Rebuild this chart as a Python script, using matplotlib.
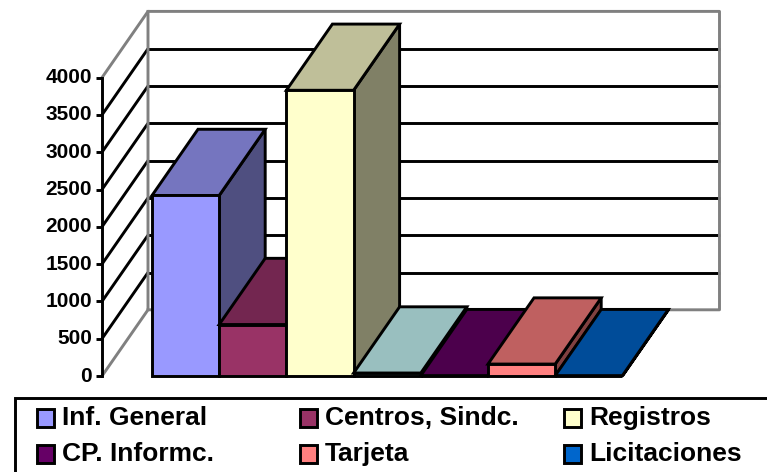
import matplotlib
matplotlib.use('Agg')
import matplotlib.pyplot as plt
from matplotlib.patches import Polygon, Rectangle

plt.rcParams['font.family'] = 'Liberation Sans'

labels = ['Inf. General', 'Centros, Sindc.', 'Registros', 'CP. Informc.', 'Tarjeta', 'Licitaciones']
legend_colors = ['#9999ff', '#993366', '#ffffcc', '#660066', '#ff8080', '#0066cc']
ticks = [0, 500, 1000, 1500, 2000, 2500, 3000, 3500, 4000]

# seven bars in the plot: the flat teal one at 40 has no legend entry
plot_values = [2420, 690, 3830, 40, 5, 160, 5]
front_colors = ['#9999ff', '#993366', '#ffffcc', '#99cccc', '#660066', '#ff8080', '#0066cc']
top_colors = ['#7575bf', '#732650', '#bfbf99', '#99bfbf', '#4c004c', '#bf6060', '#004c99']
side_colors = ['#4f4f80', '#4c1933', '#808066', '#668080', '#330033', '#804040', '#003366']

W, H = 767, 472
x0, y0 = 102, 376         # front corner of the wall
dx, dy = 46, -66.2        # depth of the 3d box
px_per_unit = 298.4 / 4000
bar_left = 152
bar_w = 67.2
right = 719.5
gray = '#808080'
lw = 2.1


def yv(v):
    return y0 - v * px_per_unit


fig = plt.figure(figsize=(W / 100, H / 100), dpi=100)
ax = fig.add_axes([0, 0, 1, 1])
ax.set_xlim(0, W)
ax.set_ylim(H, 0)
ax.axis('off')

# walls
ax.plot([x0, x0 + dx, x0 + dx], [yv(0), yv(0) + dy, yv(4000) + dy], color=gray, lw=lw, zorder=2.5)
ax.plot([x0, x0 + dx, right, right, x0 + dx], [yv(4000), yv(4000) + dy, yv(4000) + dy, yv(0) + dy, yv(0) + dy],
        color=gray, lw=lw, zorder=2.5)

# gridlines and axis
for t in ticks[1:-1]:
    ax.plot([x0, x0 + dx], [yv(t), yv(t) + dy], color='black', lw=lw, zorder=2, solid_capstyle='butt')
    ax.plot([x0 + dx, right], [yv(t) + dy, yv(t) + dy], color='black', lw=lw, zorder=2, solid_capstyle='butt')
ax.plot([x0, x0], [yv(0), yv(4000)], color='black', lw=lw, zorder=3)
for t in ticks:
    ax.plot([x0 - 6, x0], [yv(t), yv(t)], color='black', lw=lw, zorder=3, solid_capstyle='butt')
    ax.text(x0 - 10, yv(t), str(t), ha='right', va='center', fontsize=15, fontweight='bold', zorder=3)

# bars, painted left to right
for i, v in enumerate(plot_values):
    l = bar_left + i * bar_w
    r = l + bar_w
    top = yv(v)
    bottom = yv(0)
    z = 5 + i
    kw = dict(edgecolor='black', lw=lw, joinstyle='miter', zorder=z)
    ax.add_patch(Polygon([(r, bottom), (r + dx, bottom + dy), (r + dx, top + dy), (r, top)],
                         facecolor=side_colors[i], **kw))
    ax.add_patch(Polygon([(l, top), (l + dx, top + dy), (r + dx, top + dy), (r, top)],
                         facecolor=top_colors[i], **kw))
    ax.add_patch(Rectangle((l, top), bar_w, bottom - top, facecolor=front_colors[i], **kw))

# legend box runs off the right and bottom of the picture
ax.add_patch(Rectangle((14.5, 398), W, 90, facecolor='white', edgecolor='black', lw=lw, zorder=20))
xs = [37, 300, 564]
ys = [418, 454]
for i, (name, c) in enumerate(zip(labels, legend_colors)):
    lx = xs[i % 3]
    ly = ys[i // 3]
    ax.add_patch(Rectangle((lx, ly - 9), 17, 18, facecolor=c, edgecolor='black', lw=lw, zorder=21))
    ax.text(lx + 25, ly, name, ha='left', va='center', fontsize=19, fontweight='bold', zorder=21)

fig.savefig('out.png', dpi=100)
